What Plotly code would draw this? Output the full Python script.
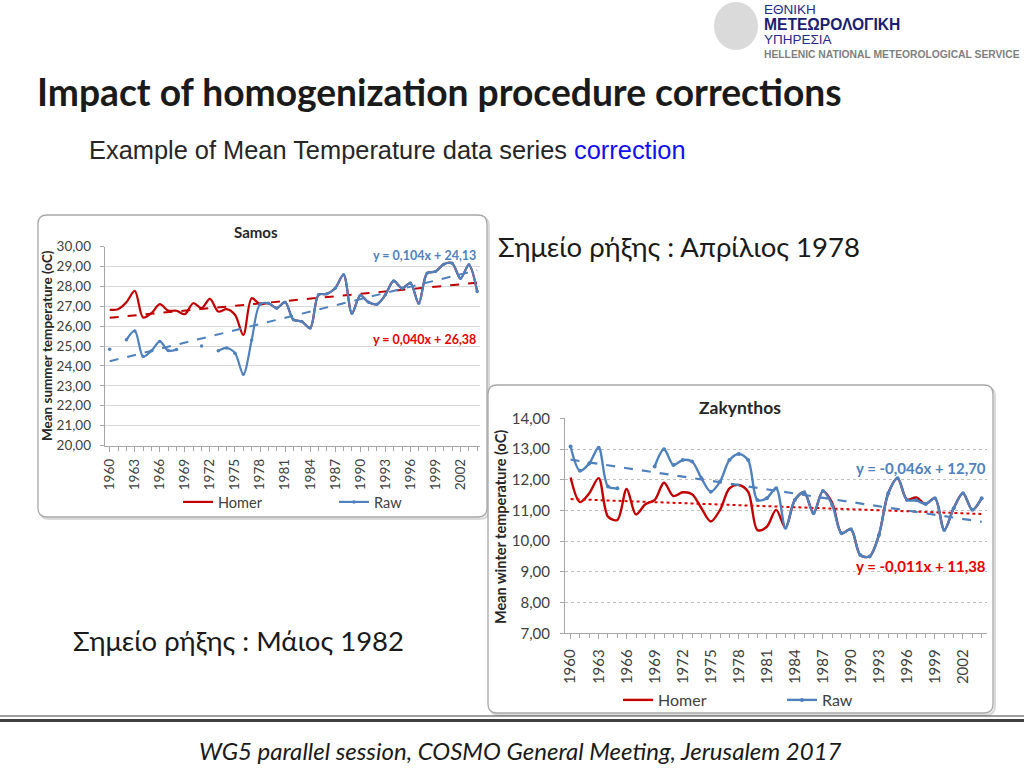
import plotly.graph_objects as go

W, H = 1024, 768

# ---------------- data ----------------
years = list(range(1960, 2005))
tick_years = list(range(1960, 2005, 3))

samos_homer = [26.82, 26.85, 27.20, 27.77, 26.43, 26.65, 27.10, 26.78, 26.77, 26.60,
               27.15, 26.90, 27.37, 26.73, 26.85, 26.57, 25.56, 27.40, 27.10, 27.15,
               26.90, 27.20, 26.32, 26.23, 25.90, 27.57, 27.62, 27.90, 28.58, 26.65,
               27.54, 27.20, 27.10, 27.57, 28.27, 27.90, 28.16, 27.15, 28.66, 28.74,
               29.11, 29.16, 28.40, 29.08, 27.74]
samos_raw = [24.84, None, 25.31, 25.76, 24.47, 24.76, 25.23, 24.77, 24.82, None,
             None, 25.00, None, 24.76, 24.90, 24.64, 23.58, 25.30, 27.10, 27.15,
             26.90, 27.20, 26.32, 26.23, 25.90, 27.57, 27.62, 27.90, 28.58, 26.65,
             27.54, 27.20, 27.10, 27.57, 28.27, 27.90, 28.16, 27.15, 28.66, 28.74,
             29.11, 29.16, 28.40, 29.08, 27.74]
samos_homer_fit = [0.040, 26.38]   # slope, intercept (Excel trendline, x = 1..n)
samos_raw_fit = [0.104, 24.13]

zak_homer = [12.07, 11.27, 11.56, 12.05, 10.80, 10.69, 11.70, 10.87, 11.20, 11.34,
             11.90, 11.47, 11.59, 11.53, 11.07, 10.64, 11.02, 11.72, 11.83, 11.61,
             10.36, 10.47, 11.02, 10.44, 11.34, 11.59, 10.91, 11.63, 11.25, 10.26,
             10.39, 9.55, 9.50, 10.20, 11.56, 12.05, 11.36, 11.42, 11.21, 11.40,
             10.36, 11.07, 11.56, 11.02, 11.40]
zak_raw = [13.08, 12.29, 12.53, 13.04, 11.78, 11.72, None, None, None, 12.43,
           12.99, 12.48, 12.64, 12.59, 12.05, 11.61, 11.94, 12.64, 12.84, 12.64,
           11.34, 11.40, 11.72, 10.44, 11.34, 11.59, 10.91, 11.63, 11.18, 10.26,
           10.39, 9.55, 9.50, 10.20, 11.56, 12.05, 11.34, 11.33, 11.21, 11.40,
           10.36, 11.07, 11.56, 11.02, 11.40]
zak_homer_fit = [-0.011, 11.38]
zak_raw_fit = [-0.046, 12.70]

samos_eq = ["y = 0,104x + 24,13", "y = 0,040x + 26,38"]
zak_eq = ["y = -0,046x + 12,70", "y = -0,011x + 11,38"]

# ---------------- styles ----------------
RED = "#C00000"
BLUE = "#4F81BD"
EQ_RED = "#E60000"
CAL = "Lato, Carlito, Noto Sans, sans-serif"
ARIAL = "Liberation Sans, Arial, sans-serif"
TXT = "#404040"


def px(x):
    return x / W


def py(y):
    return 1 - y / H


def trend(fit):
    return [fit[0] * (i + 1) + fit[1] for i in range(len(years))]


fig = go.Figure()

# ---- Samos ----
fig.add_trace(go.Scatter(x=years, y=samos_homer, name="Homer", mode="lines",
                         line=dict(color=RED, width=2.2, shape="spline", smoothing=0.9),
                         xaxis="x", yaxis="y", legend="legend"))
fig.add_trace(go.Scatter(x=years, y=trend(samos_homer_fit), mode="lines", showlegend=False,
                         line=dict(color=RED, width=2, dash="dash"), xaxis="x", yaxis="y"))
fig.add_trace(go.Scatter(x=years, y=trend(samos_raw_fit), mode="lines", showlegend=False,
                         line=dict(color=BLUE, width=2, dash="dash"), xaxis="x", yaxis="y"))
fig.add_trace(go.Scatter(x=years, y=samos_raw, name="Raw", mode="lines+markers",
                         connectgaps=False,
                         line=dict(color=BLUE, width=2.2, shape="spline", smoothing=0.9),
                         marker=dict(size=3.5, color=BLUE),
                         xaxis="x", yaxis="y", legend="legend"))

# ---- Zakynthos ----
fig.add_trace(go.Scatter(x=years, y=zak_homer, name="Homer", mode="lines",
                         line=dict(color=RED, width=2.4, shape="spline", smoothing=0.9),
                         xaxis="x2", yaxis="y2", legend="legend2"))
fig.add_trace(go.Scatter(x=years, y=trend(zak_homer_fit), mode="lines", showlegend=False,
                         line=dict(color="#E00000", width=2, dash="dot"), xaxis="x2", yaxis="y2"))
fig.add_trace(go.Scatter(x=years, y=trend(zak_raw_fit), mode="lines", showlegend=False,
                         line=dict(color=BLUE, width=2.2, dash="dash"), xaxis="x2", yaxis="y2"))
fig.add_trace(go.Scatter(x=years, y=zak_raw, name="Raw", mode="lines+markers",
                         connectgaps=False,
                         line=dict(color=BLUE, width=2.4, shape="spline", smoothing=0.9),
                         marker=dict(size=4, color=BLUE),
                         xaxis="x2", yaxis="y2", legend="legend2"))

axis_common = dict(showline=True, linecolor="#A6A6A6", linewidth=1, zeroline=False,
                   automargin=False, fixedrange=True)

fig.update_layout(
    width=W, height=H, margin=dict(l=0, r=0, t=0, b=0),
    paper_bgcolor="white", plot_bgcolor="rgba(0,0,0,0)",
    separators=", ",
    xaxis=dict(domain=[px(104.7), px(479.7)], range=[1959.4, 2004.3], anchor="y",
               tickvals=tick_years, ticktext=[str(t) for t in tick_years], tickangle=-90,
               ticks="outside", ticklen=5, tickcolor="#A6A6A6", showgrid=False,
               ticklabelstandoff=2,
               minor=dict(dtick=1, tick0=1960, ticks="outside", ticklen=4, tickcolor="#A6A6A6",
                          showgrid=False),
               tickfont=dict(family=CAL, size=13.5, color=TXT), **axis_common),
    yaxis=dict(domain=[py(445.5), py(246.5)], range=[20, 30], anchor="x",
               dtick=1, tickformat=".2f", ticks="outside", ticklen=4, tickcolor="#A6A6A6",
               showgrid=True, gridcolor="#D9D9D9", gridwidth=1, ticklabelstandoff=6,
               tickfont=dict(family=CAL, size=13.5, color=TXT), **axis_common),
    xaxis2=dict(domain=[px(565), px(987)], range=[1959.4, 2004.57], anchor="y2",
                tickvals=tick_years, ticktext=[str(t) for t in tick_years], tickangle=-90,
                ticks="outside", ticklen=5, tickcolor="#A6A6A6", showgrid=False,
                ticklabelstandoff=4,
                minor=dict(dtick=1, tick0=1960, ticks="outside", ticklen=4, tickcolor="#A6A6A6",
                           showgrid=False),
                tickfont=dict(family=CAL, size=15, color=TXT), **axis_common),
    yaxis2=dict(domain=[py(633.3), py(418.3)], range=[7, 14], anchor="x2",
                dtick=1, tickformat=".2f", ticks="outside", ticklen=4, tickcolor="#A6A6A6",
                showgrid=True, gridcolor="#BFBFBF", gridwidth=1, griddash="dot",
                ticklabelstandoff=7,
                tickfont=dict(family=CAL, size=15, color=TXT), **axis_common),
    legend=dict(orientation="h", x=px(178), y=py(502), xanchor="left", yanchor="middle",
                bgcolor="rgba(0,0,0,0)", font=dict(family=CAL, size=14.5, color=TXT),
                entrywidth=111, entrywidthmode="pixels", itemwidth=30),
    legend2=dict(orientation="h", x=px(618), y=py(700), xanchor="left", yanchor="middle",
                 bgcolor="rgba(0,0,0,0)", font=dict(family=CAL, size=16, color=TXT),
                 entrywidth=119, entrywidthmode="pixels", itemwidth=30),
    showlegend=True,
)


def rrect(x0, y0, x1, y1, r):
    rx, ry = r / W, r / H
    X0, X1 = px(x0), px(x1)
    Y0, Y1 = py(y0), py(y1)  # Y0 top (larger), Y1 bottom
    return (f"M {X0+rx},{Y0} L {X1-rx},{Y0} Q {X1},{Y0} {X1},{Y0-ry} "
            f"L {X1},{Y1+ry} Q {X1},{Y1} {X1-rx},{Y1} L {X0+rx},{Y1} "
            f"Q {X0},{Y1} {X0},{Y1+ry} L {X0},{Y0-ry} Q {X0},{Y0} {X0+rx},{Y0} Z")


shapes = []
for (x0, y0, x1, y1) in [(38, 215, 487, 517), (488, 385, 993, 713)]:
    shapes.append(dict(type="path", path=rrect(x0 + 2, y0 + 2, x1 + 2, y1 + 2, 9),
                       xref="paper", yref="paper", line=dict(color="#DADADA", width=2),
                       fillcolor="#EEEEEE", layer="below"))
    shapes.append(dict(type="path", path=rrect(x0, y0, x1, y1, 9),
                       xref="paper", yref="paper", line=dict(color="#A8A8A8", width=1.3),
                       fillcolor="white", layer="below"))
# footer double rule
shapes.append(dict(type="line", xref="paper", yref="paper", x0=0, x1=1, y0=py(716), y1=py(716),
                   line=dict(color="#404040", width=1)))
shapes.append(dict(type="line", xref="paper", yref="paper", x0=0, x1=1, y0=py(720.5), y1=py(720.5),
                   line=dict(color="#404040", width=3)))
# logo portrait placeholder
shapes.append(dict(type="circle", xref="paper", yref="paper", x0=px(714), x1=px(758),
                   y0=py(50), y1=py(2), line=dict(width=0), fillcolor="rgba(150,150,150,0.35)",
                   layer="below"))
fig.update_layout(shapes=shapes)

ann = []


def text(x, y, s, size, color="#262626", family=CAL, xanchor="left", angle=0, bold=False, pad=1):
    ann.append(dict(x=px(x), y=py(y), xref="paper", yref="paper", text=(f"<b>{s}</b>" if bold else s),
                    showarrow=False, xanchor=xanchor, yanchor="middle", textangle=angle,
                    borderpad=pad, font=dict(family=family, size=size, color=color)))


# slide texts
text(35, 92, "Impact of homogenization procedure corrections", 37.2, "#1A1A1A", bold=True)
text(87, 150, "Example of Mean Temperature data series <span style='color:#1010F0'>correction</span>",
     25.4, "#262626", family=ARIAL)
text(496, 246, "Σημείο ρήξης : Απρίλιος 1978", 27.5, "#1A1A1A")
text(71, 640, "Σημείο ρήξης : Μάιος 1982", 27.5, "#1A1A1A")
text(520, 750, "<i>WG5 parallel session, COSMO General Meeting, Jerusalem 2017</i>", 24, "#1A1A1A",
     xanchor="center")

# logo texts
text(763, 9, "ΕΘΝΙΚΗ", 13.5, "#1F2A8A", family=ARIAL, pad=0)
text(763, 24, "ΜΕΤΕΩΡΟΛΟΓΙΚΗ", 15.6, "#1A2070", family=ARIAL, bold=True, pad=0)
text(763, 39, "ΥΠΗΡΕΣΙΑ", 13.5, "#1F2A8A", family=ARIAL, pad=0)
text(763, 54.5, "HELLENIC NATIONAL METEOROLOGICAL SERVICE", 10.3, "#808080", family=ARIAL,
     bold=True, pad=0)

# chart titles
text(256, 232, "Samos", 15, "#262626", bold=True, xanchor="center")
text(740, 407, "Zakynthos", 17.5, "#262626", bold=True, xanchor="center")
text(47, 346, "Mean summer temperature (oC)", 13.5, "#262626", bold=True, xanchor="center", angle=-90)
text(500, 527, "Mean winter temperature (oC)", 14.5, "#262626", bold=True, xanchor="center", angle=-90)

# trendline equations
ann.append(dict(x=px(478), y=py(256), xref="paper", yref="paper", text=f"<b>{samos_eq[0]}</b>",
                showarrow=False, xanchor="right", yanchor="middle",
                font=dict(family=CAL, size=12.5, color=BLUE)))
ann.append(dict(x=px(478), y=py(340), xref="paper", yref="paper", text=f"<b>{samos_eq[1]}</b>",
                showarrow=False, xanchor="right", yanchor="middle",
                font=dict(family=CAL, size=12.5, color=EQ_RED)))
ann.append(dict(x=px(988), y=py(468), xref="paper", yref="paper", text=f"<b>{zak_eq[0]}</b>",
                showarrow=False, xanchor="right", yanchor="middle",
                font=dict(family=CAL, size=15, color=BLUE)))
ann.append(dict(x=px(988), y=py(566), xref="paper", yref="paper", text=f"<b>{zak_eq[1]}</b>",
                showarrow=False, xanchor="right", yanchor="middle",
                font=dict(family=CAL, size=15, color=EQ_RED)))

fig.update_layout(annotations=ann)

fig.write_html("out.html", config={"displayModeBar": False},
               post_script="document.body.style.margin='0';document.body.style.overflow='hidden';")
